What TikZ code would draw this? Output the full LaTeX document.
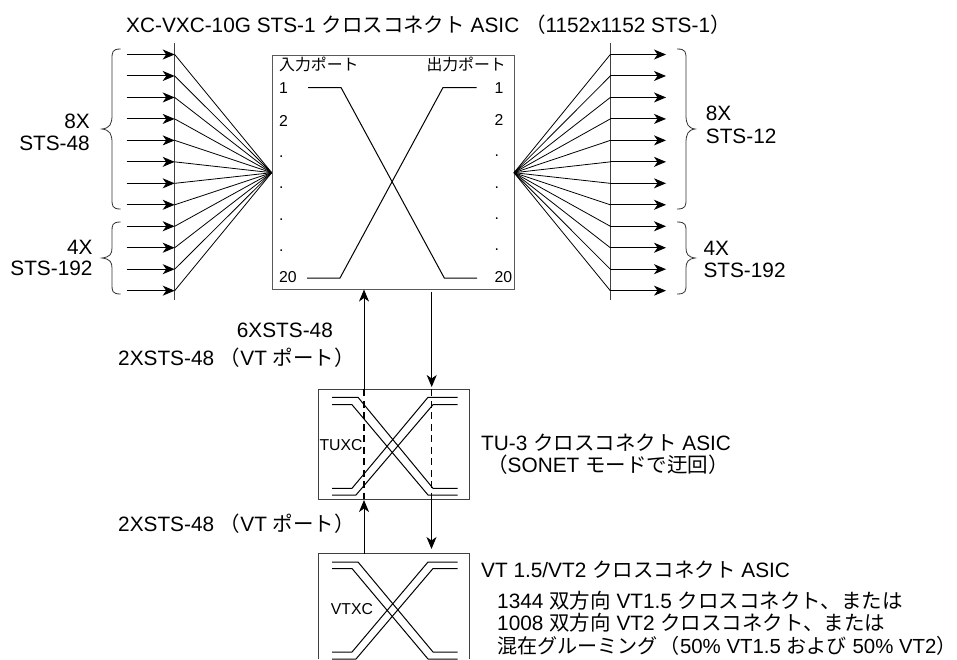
\documentclass[tikz,border=0pt]{standalone}
\usepackage{fontspec}
\setmainfont{Liberation Sans}
\newfontfamily\jpf[Scale=0.985]{Noto Sans CJK JP}
\newcommand{\J}[1]{{\jpf #1}}
\usetikzlibrary{arrows.meta}
\tikzset{
  x=1pt,y=-1pt,
  txt/.style={inner sep=0pt,font=\fontsize{20.8}{24}\selectfont,anchor=base west,align=left},
  small/.style={inner sep=0pt,font=\fontsize{15.8}{18}\selectfont,anchor=base west},
  smallj/.style={inner sep=0pt,font=\fontsize{16.1}{18}\selectfont,anchor=base west},
  boxn/.style={draw=black!65,line width=1.2pt,inner sep=0pt,anchor=north west},
  boxt/.style={draw=black!75,line width=0.9pt,inner sep=0pt,anchor=north west},
  wire/.style={line width=1pt},
  arr/.style={line width=1pt,-{Stealth[length=12pt,width=10pt,inset=3.5pt]}},
  bar/.style={line width=1pt,draw=black!75},
  fan/.style={line width=0.8pt},
  brc/.style={line width=0.8pt,draw=black!80},
  dashv/.style={line width=1.3pt,dash pattern=on 7pt off 4.5pt},
}
\begin{document}
\begin{tikzpicture}
\useasboundingbox (0,0) rectangle (957,659);
\coordinate (fanL) at (271.7,172.7);
\coordinate (fanR) at (514,172.7);
\node[boxn,minimum width=242.3pt,minimum height=234.2pt] (xc) at (271.7,54.5) {};
\node[boxt,minimum width=151pt,minimum height=109.7pt] (tu) at (318.3,389.3) {};
\draw[line width=0.9pt,draw=black!75] (318.3,659) -- (318.3,553.7) -- (469.3,553.7) -- (469.3,659);
% buses
\coordinate (lb0) at (174.7,43); \coordinate (lb1) at (174.7,300);
\coordinate (rb0) at (610.3,43); \coordinate (rb1) at (610.3,300);
\draw[bar] (lb0)--(lb1);
\draw[bar] (rb0)--(rb1);
\foreach \i in {0,...,11}{
  \pgfmathsetmacro{\yy}{54.5+21.47*\i}
  \coordinate (la\i) at (126.7,\yy);
  \coordinate (lp\i) at (174.7,\yy);
  \coordinate (rp\i) at (610.3,\yy);
  \coordinate (ra\i) at (666,\yy);
  \draw[arr] (la\i)--(lp\i);
  \draw[arr] (rp\i)--(ra\i);
  \draw[fan] (lp\i)--(fanL);
  \draw[fan] (rp\i)--(fanR);
}
% braces
\draw[brc] (120.7,49) .. controls (112,49) and (112,52) .. (112,60) -- (112,115) .. controls (112,124) and (110,128) .. (102,129) .. controls (110,130) and (112,134) .. (112,143) -- (112,198) .. controls (112,206) and (112,209) .. (120.7,209);
\draw[brc] (120.7,222) .. controls (112,222) and (112,225) .. (112,232) -- (112,248) .. controls (112,254) and (110,257) .. (102,258) .. controls (110,259) and (112,262) .. (112,268) -- (112,284) .. controls (112,291) and (112,294) .. (120.7,294);
\draw[brc] (677,49) .. controls (686,49) and (686,52) .. (686,60) -- (686,115) .. controls (686,124) and (688,128) .. (695,129) .. controls (688,130) and (686,134) .. (686,143) -- (686,198) .. controls (686,206) and (686,209) .. (677,209);
\draw[brc] (677,222) .. controls (686,222) and (686,225) .. (686,232) -- (686,248) .. controls (686,254) and (688,257) .. (695,258) .. controls (688,259) and (686,262) .. (686,268) -- (686,284) .. controls (686,291) and (686,294) .. (677,294);
% main cross
\draw[wire] (308,87.5)--(341,87.5)--(444.3,278)--(477,278);
\draw[wire] (307,278)--(340,278)--(443,87.5)--(476.7,87.5);
% TUXC cross
\draw[wire] (332,397.3)--(358,397.3)--(433,488.3)--(457.5,488.3);
\draw[wire] (332,404.7)--(352,404.7)--(428,495)--(457.5,495);
\draw[wire] (332,488.3)--(352,488.3)--(428,397.3)--(457.5,397.3);
\draw[wire] (332,495)--(356,495)--(433,404.7)--(457.5,404.7);
% VTXC cross
\begin{scope}
\clip (300,555) rectangle (480,659);
\draw[wire] (332,562)--(358,562)--(433,652)--(457.5,652);
\draw[wire] (332,568.5)--(352,568.5)--(428,659)--(457.5,659);
\draw[wire] (332,652)--(352,652)--(428,562)--(457.5,562);
\draw[wire] (332,659)--(356,659)--(433,568.5)--(457.5,568.5);
\end{scope}
% vertical connectors
\coordinate (u0) at (364,389.3); \coordinate (u1) at (364,289.5);
\coordinate (d0) at (431.7,291.5); \coordinate (d1) at (431.7,387);
\coordinate (u2) at (364,553.7); \coordinate (u3) at (364,500);
\coordinate (d2) at (431.5,499); \coordinate (d3) at (431.5,549);
\draw[arr] (u0)--(u1);
\draw[arr] (d0)--(d1);
\draw[arr] (u2)--(u3);
\draw[arr] (d2)--(d3);
\draw[dashv] (364,389.3)--(364,499);
\draw[dashv] (431.7,389.3)--(431.7,499);
% texts
\node[txt] at (126,32.7) {XC-VXC-10G STS-1 \J{クロスコネクト} ASIC \J{（}1152x1152 STS-1\J{）}};
\node[txt,anchor=base east] at (90,128) {8X}; \node[txt,anchor=base east] at (90,150) {STS-48};
\node[txt,anchor=base east] at (92.7,254) {4X}; \node[txt,anchor=base east] at (92.7,275.7) {STS-192};
\node[txt] at (705.7,120.7) {8X}; \node[txt] at (705.7,143.3) {STS-12};
\node[txt] at (703.3,255) {4X}; \node[txt] at (703.3,277) {STS-192};
\node[smallj] at (279,70.7) {\J{入力ポート}};
\node[smallj,anchor=base east] at (506,70.7) {\J{出力ポート}};
\foreach \t/\y in {1/93.3,2/126,./157,./188,./220,./251,20/282.7}{
  \node[small] at (279,\y) {\t};
}
\foreach \t/\y in {1/93.3,2/125,./156,./188,./219,./250,20/282.7}{
  \node[small] at (494.5,\y) {\t};
}
\node[txt] at (236.7,337.7) {6XSTS-48};
\node[txt] at (118,365) {2XSTS-48 \J{（}VT \J{ポート）}};
\node[txt] at (118,531) {2XSTS-48 \J{（}VT \J{ポート）}};
\node[small] at (319.3,450) {TUXC};
\node[small] at (330.7,614) {VTXC};
\node[txt] at (481,450.7) {TU-3 \J{クロスコネクト} ASIC};
\node[txt] at (487,472.7) {\J{（}SONET \J{モードで迂回）}};
\node[txt] at (481,577) {VT 1.5/VT2 \J{クロスコネクト} ASIC};
\node[txt] at (497,608) {1344 \J{双方向} VT1.5 \J{クロスコネクト、または}};
\node[txt] at (497,630.7) {1008 \J{双方向} VT2 \J{クロスコネクト、または}};
\node[txt,font=\fontsize{20.4}{24}\selectfont] at (497,653) {\J{混在グルーミング}\kern2pt\J{（}50\% VT1.5 \J{および} 50\% VT2\J{）}};
\end{tikzpicture}
\end{document}
